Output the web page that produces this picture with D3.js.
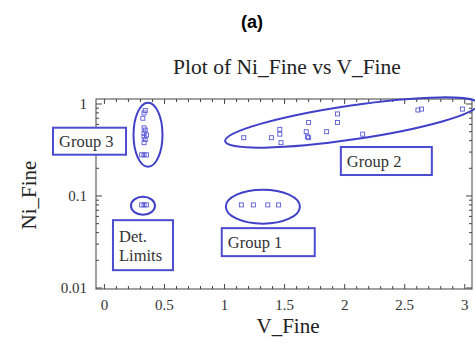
<!DOCTYPE html>
<html>
<head>
<meta charset="utf-8">
<script src="https://cdn.jsdelivr.net/npm/d3@7"></script>
<style>
  html, body { margin: 0; padding: 0; background: #fff; }
  svg { display: block; }
</style>
</head>
<body>
<div id="chart"></div>
<script>
// Data (V_Fine, Ni_Fine)
const group3V = [0.34, 0.33, 0.32, 0.33, 0.34, 0.33, 0.35, 0.33, 0.34, 0.33, 0.31, 0.33, 0.35];
const group3Ni = [0.85, 0.80, 0.70, 0.55, 0.52, 0.48, 0.46, 0.44, 0.41, 0.38, 0.28, 0.28, 0.28];
const detV = [0.31, 0.33, 0.35];
const detNi = [0.08, 0.08, 0.08];
const group1V = [1.14, 1.24, 1.36, 1.45];
const group1Ni = [0.08, 0.08, 0.08, 0.08];
const group2V = [1.16, 1.39, 1.46, 1.46, 1.47, 1.70, 1.68, 1.69, 1.70, 1.85, 1.94, 1.94, 2.15, 2.61, 2.64, 2.98];
const group2Ni = [0.43, 0.43, 0.53, 0.47, 0.38, 0.63, 0.50, 0.44, 0.43, 0.50, 0.78, 0.63, 0.47, 0.86, 0.88, 0.88];

const xTicks = [0, 0.5, 1, 1.5, 2, 2.5, 3];
const xTickLabels = ['0', '0.5', '1', '1.5', '2', '2.5', '3'];
const yTicks = [0.01, 0.1, 1];
const yTickLabels = ['0.01', '0.1', '1'];

const width = 475, height = 345;
const blue = '#4040c8';
const serif = '"Liberation Serif", "Times New Roman", serif';

const svg = d3.select('#chart').append('svg')
  .attr('width', width)
  .attr('height', height);

const x = d3.scaleLinear().domain([-0.07, 3.06]).range([96, 472]);
const y = d3.scaleLog().domain([0.00975, 1.133]).range([289, 99]);

// Titles
svg.append('text')
  .attr('x', 252).attr('y', 28)
  .attr('text-anchor', 'middle')
  .style('font-family', '"Liberation Sans", Arial, sans-serif')
  .style('font-weight', 'bold')
  .style('font-size', '18px')
  .text('(a)');

svg.append('text')
  .attr('x', 287).attr('y', 74)
  .attr('text-anchor', 'middle')
  .style('font-family', serif)
  .style('font-size', '21.5px')
  .attr('fill', '#222')
  .text('Plot of Ni_Fine vs V_Fine');

// Frame
const [x0, x1] = x.range();
const [y0, y1] = y.range();
svg.append('rect')
  .attr('x', x0).attr('y', y1)
  .attr('width', x1 - x0).attr('height', y0 - y1)
  .attr('fill', 'none')
  .attr('stroke', '#444')
  .attr('stroke-width', 1);

// Ticks (inward on all four sides)
const xMinor = d3.range(0, 3.05, 0.1).filter(v => !xTicks.some(t => Math.abs(t - v) < 1e-6));
const yMinor = [];
[0.01, 0.1].forEach(d => { for (let k = 2; k <= 9; k++) yMinor.push(d * k); });

const tickG = svg.append('g').attr('stroke', '#444').attr('stroke-width', 1);
function xTick(v, len) {
  tickG.append('line').attr('x1', x(v)).attr('x2', x(v)).attr('y1', y0).attr('y2', y0 - len);
  tickG.append('line').attr('x1', x(v)).attr('x2', x(v)).attr('y1', y1).attr('y2', y1 + len);
}
function yTick(v, len) {
  tickG.append('line').attr('y1', y(v)).attr('y2', y(v)).attr('x1', x0).attr('x2', x0 + len);
  tickG.append('line').attr('y1', y(v)).attr('y2', y(v)).attr('x1', x1).attr('x2', x1 - len);
}
xTicks.forEach(v => xTick(v, 5));
xMinor.forEach(v => xTick(v, 3));
yTicks.forEach(v => yTick(v, 6));
yMinor.forEach(v => yTick(v, 3));

// Tick labels
svg.append('g').selectAll('text')
  .data(xTicks)
  .join('text')
  .attr('x', d => x(d))
  .attr('y', 310)
  .attr('text-anchor', 'middle')
  .style('font-family', serif)
  .style('font-size', '15px')
  .attr('fill', '#333')
  .text((d, i) => xTickLabels[i]);

svg.append('g').selectAll('text')
  .data(yTicks)
  .join('text')
  .attr('x', 87)
  .attr('y', d => y(d) + 5)
  .attr('text-anchor', 'end')
  .style('font-family', serif)
  .style('font-size', '15px')
  .attr('fill', '#333')
  .text((d, i) => yTickLabels[i]);

// Axis labels
svg.append('text')
  .attr('x', 288).attr('y', 333)
  .attr('text-anchor', 'middle')
  .style('font-family', serif)
  .style('font-size', '21px')
  .attr('fill', '#222')
  .text('V_Fine');

svg.append('text')
  .attr('transform', 'translate(36,195) rotate(-90)')
  .attr('text-anchor', 'middle')
  .style('font-family', serif)
  .style('font-size', '21px')
  .attr('fill', '#222')
  .text('Ni_Fine');

// Points
const allV = [...group3V, ...detV, ...group1V, ...group2V];
const allNi = [...group3Ni, ...detNi, ...group1Ni, ...group2Ni];
const points = allV.map((v, i) => ({ v, ni: allNi[i] }));
const s = 4;
svg.append('g').selectAll('rect')
  .data(points)
  .join('rect')
  .attr('x', d => x(d.v) - s / 2)
  .attr('y', d => y(d.ni) - s / 2)
  .attr('width', s).attr('height', s)
  .attr('fill', 'none')
  .attr('stroke', '#5a5ad6')
  .attr('stroke-width', 0.9);

// Annotations: ellipses and labelled boxes (centres in data units, sizes in px)
const ellipses = [
  { v: 0.363, ni: 0.464, rx: 14.5, ry: 32, rot: 0 },
  { v: 0.321, ni: 0.0784, rx: 12, ry: 9, rot: 0 },
  { v: 1.319, ni: 0.0765, rx: 37, ry: 17, rot: 0 },
  { v: 2.059, ni: 0.629, rx: 128, ry: 17, rot: -8.4 }
];
svg.append('g').selectAll('ellipse')
  .data(ellipses)
  .join('ellipse')
  .attr('transform', d => `translate(${x(d.v)},${y(d.ni)}) rotate(${d.rot})`)
  .attr('rx', d => d.rx).attr('ry', d => d.ry)
  .attr('fill', 'none')
  .attr('stroke', blue)
  .attr('stroke-width', 2);

const boxes = [
  { v: -0.124, ni: 0.394, w: 73, h: 27, lines: ['Group 3'] },
  { v: 2.347, ni: 0.24, w: 91, h: 28, lines: ['Group 2'] },
  { v: 1.364, ni: 0.0315, w: 93, h: 28, lines: ['Group 1'] },
  { v: 0.321, ni: 0.0292, w: 60, h: 50, lines: ['Det.', 'Limits'] }
];
const bg = svg.append('g').selectAll('g')
  .data(boxes)
  .join('g')
  .attr('transform', d => `translate(${x(d.v) - d.w / 2},${y(d.ni) - d.h / 2})`);
bg.append('rect')
  .attr('width', d => d.w).attr('height', d => d.h)
  .attr('fill', '#fff')
  .attr('stroke', '#4c4cd0')
  .attr('stroke-width', 2);
bg.each(function (d) {
  const g = d3.select(this);
  const n = d.lines.length;
  d.lines.forEach((t, i) => {
    g.append('text')
      .attr('x', 6)
      .attr('y', d.h / 2 + 6 + (i - (n - 1) / 2) * 19)
      .style('font-family', serif)
      .style('font-size', '16.5px')
      .attr('fill', '#333')
      .text(t);
  });
});
</script>
</body>
</html>
